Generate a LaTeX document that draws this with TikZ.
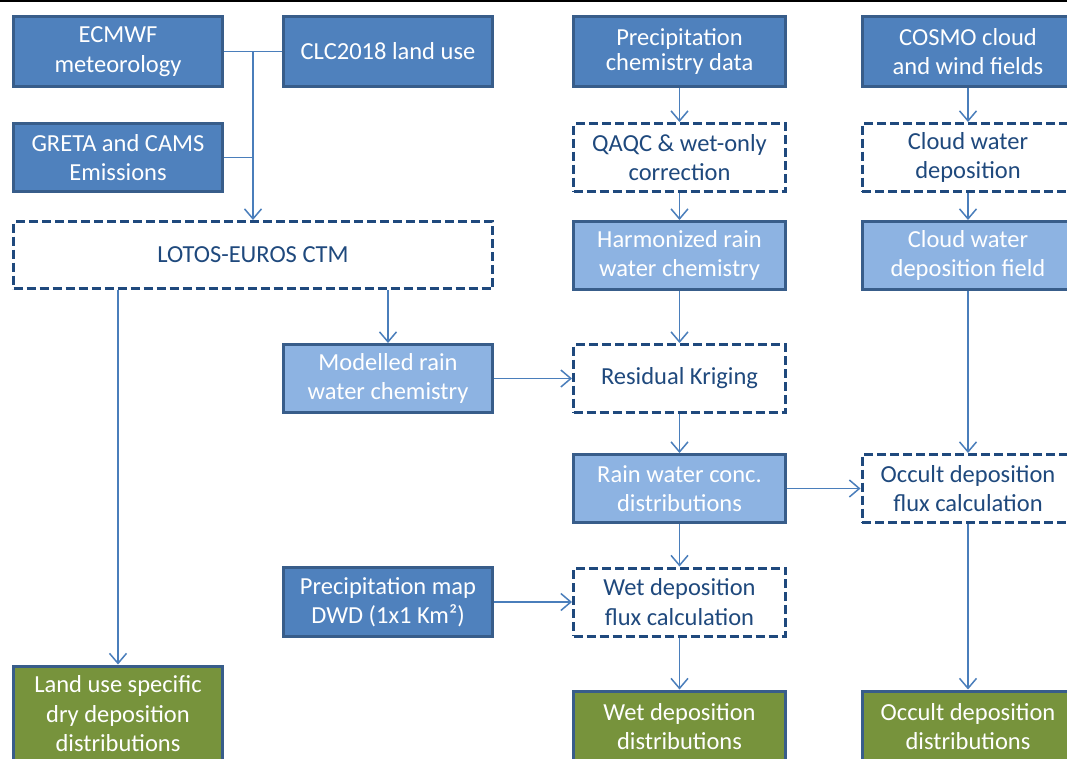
\documentclass[tikz,border=0pt]{standalone}
\usepackage{fontspec}
\setmainfont{Carlito}
\usetikzlibrary{arrows.meta}
\definecolor{fillblue}{HTML}{4F81BD}
\definecolor{fillltblue}{HTML}{8DB3E2}
\definecolor{fillgreen}{HTML}{77933C}
\definecolor{edgeblue}{HTML}{385D8A}
\definecolor{dashblue}{HTML}{1F497D}
\definecolor{connblue}{HTML}{4A7EBB}
\tikzset{
  basebox/.style={rectangle, line width=3pt, align=center, inner sep=0pt,
    font=\fontsize{24.5}{29.5}\selectfont},
  darkbox/.style={basebox, draw=edgeblue, fill=fillblue, text=white},
  lightbox/.style={basebox, draw=edgeblue, fill=fillltblue, text=white},
  greenbox/.style={basebox, draw=edgeblue, fill=fillgreen, text=white},
  dashbox/.style={basebox, draw=dashblue, fill=white, text=dashblue, dash pattern=on 9pt off 4pt},
  conn/.style={draw=connblue, line width=1.5pt},
  arr/.style={conn, -{Straight Barb[length=10pt,width=17pt,line width=1.5pt]}},
}
\begin{document}
\begin{tikzpicture}[x=1pt,y=-1pt]
\useasboundingbox (0,0) rectangle (1067,758);
\fill[white] (0,0) rectangle (1067,758);
\draw[black, line width=1.5pt] (0,0.75) -- (1067,0.75);
% column 1/2
\node[darkbox, minimum width=209pt, minimum height=70pt] (ecmwf) at (118,51.5) {ECMWF\\meteorology};
\node[darkbox, minimum width=209pt, minimum height=70pt] (clc) at (388,51.5) {CLC2018 land use};
\node[darkbox, minimum width=209pt, minimum height=68pt] (greta) at (118,157.5) {GRETA and CAMS\\Emissions};
\node[dashbox, minimum width=479pt, minimum height=67pt] (lotos) at (253,255) {LOTOS-EUROS CTM};
\node[lightbox, minimum width=209pt, minimum height=68pt] (model) at (388,378.5) {Modelled rain\\water chemistry};
\node[darkbox, minimum width=209pt, minimum height=69pt] (dwd) at (388,602) {Precipitation map\\DWD (1x1 Km²)};
\node[greenbox, minimum width=209pt, minimum height=96pt] (land) at (118,714) {Land use specific\\dry deposition\\distributions};
% column 3
\node[darkbox, minimum width=212pt, minimum height=70pt, font=\fontsize{24.5}{25}\selectfont] (pcd) at (679.5,51.5) {Precipitation\\chemistry data};
\node[dashbox, minimum width=212pt, minimum height=68pt] (qaqc) at (679.5,157.5) {QAQC \& wet-only\\correction};
\node[lightbox, minimum width=212pt, minimum height=68pt] (harm) at (679.5,255.5) {Harmonized rain\\water chemistry};
\node[dashbox, minimum width=212pt, minimum height=68pt] (kri) at (679.5,378.5) {Residual Kriging};
\node[lightbox, minimum width=212pt, minimum height=68pt] (conc) at (679.5,488.5) {Rain water conc.\\distributions};
\node[dashbox, minimum width=212pt, minimum height=68pt] (wflux) at (679.5,602) {Wet deposition\\flux calculation};
\node[greenbox, minimum width=212pt, minimum height=71pt] (wdist) at (679.5,726.5) {Wet deposition\\distributions};
% column 4
\node[darkbox, minimum width=212pt, minimum height=70pt] (cosmo) at (968,51.5) {COSMO cloud\\and wind fields};
\node[dashbox, minimum width=212pt, minimum height=68pt] (cwd) at (968,157.5) {Cloud water\\deposition};
\node[lightbox, minimum width=212pt, minimum height=68pt] (cwf) at (968,255.5) {Cloud water\\deposition field};
\node[dashbox, minimum width=212pt, minimum height=68pt] (oflux) at (968,488.5) {Occult deposition\\flux calculation};
\node[greenbox, minimum width=212pt, minimum height=71pt] (odist) at (968,726.5) {Occult deposition\\distributions};
% connectors
\coordinate (j1) at (253,51.5);
\coordinate (j2) at (253,157.5);
\draw[conn] (ecmwf.east) -- (clc.west);
\draw[conn] (greta.east) -- (j2);
\draw[arr] (j1) -- (lotos.north);
\draw[arr] (land.north |- lotos.south) -- (land.north);
\draw[arr] (model.north |- lotos.south) -- (model.north);
\draw[arr] (model.east) -- (kri.west);
\draw[arr] (pcd.south) -- (qaqc.north);
\draw[arr] (qaqc.south) -- (harm.north);
\draw[arr] (harm.south) -- (kri.north);
\draw[arr] (kri.south) -- (conc.north);
\draw[arr] (conc.south) -- (wflux.north);
\draw[arr] (conc.east) -- (oflux.west);
\draw[arr] (dwd.east) -- (wflux.west);
\draw[arr] (wflux.south) -- (wdist.north);
\draw[arr] (cosmo.south) -- (cwd.north);
\draw[arr] (cwd.south) -- (cwf.north);
\draw[arr] (cwf.south) -- (oflux.north);
\draw[arr] (oflux.south) -- (odist.north);
\end{tikzpicture}
\end{document}
